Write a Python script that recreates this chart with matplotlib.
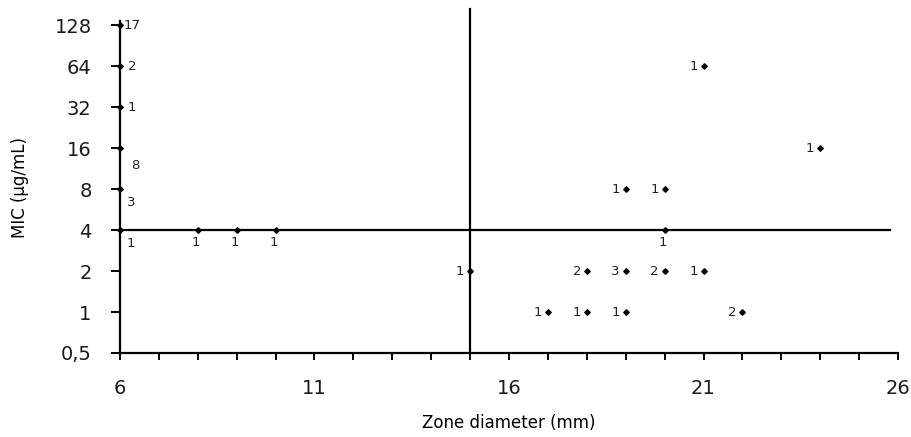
import numpy as np
import matplotlib
matplotlib.use("Agg")
import matplotlib.pyplot as plt
from matplotlib.ticker import FixedLocator, FixedFormatter, MultipleLocator

# zone diameter (mm), MIC (ug/mL), isolate count, where the count label sits
zone = [6, 6, 6, 6, 6, 6, 8, 9, 10, 20, 15, 18, 19, 20, 21, 17, 18, 19, 22, 19, 20, 21, 24]
mic = [128, 64, 32, 16, 8, 4, 4, 4, 4, 4, 2, 2, 2, 2, 2, 1, 1, 1, 1, 8, 8, 64, 16]
count = [17, 2, 1, 8, 3, 1, 1, 1, 1, 1, 1, 2, 3, 2, 1, 1, 1, 1, 2, 1, 1, 1, 1]
label_side = ["right", "right", "right", "below_far", "below", "below",
              "under", "under", "under", "under",
              "left", "left", "left", "left", "left", "left", "left", "left", "left",
              "left", "left", "left", "left"]

y_ticks = [0.5, 1, 2, 4, 8, 16, 32, 64, 128]
y_labels = ["0,5", "1", "2", "4", "8", "16", "32", "64", "128"]
x_ticks = [6, 11, 16, 21, 26]

# breakpoints
zone_bp = 15
mic_bp = 4

plt.rcParams['font.family'] = ['DejaVu Sans']

fig = plt.figure(figsize=(9.12, 4.37), dpi=100)
ax = fig.add_axes([120 / 912, 1 - 353 / 437, (898 - 120) / 912, (353 - 21) / 437])

ax.set_yscale('log', base=2)
ax.set_xlim(6, 26)
ax.set_ylim(0.5, 138)

# breakpoint lines
ax.plot([zone_bp, zone_bp], [0.5, 168], color='black', lw=1.6, clip_on=False, zorder=2)
ax.plot([6, 25.8], [mic_bp, mic_bp], color='black', lw=1.6, zorder=2)

ax.plot(zone, mic, linestyle='none', marker='D', markersize=2.8, color='black',
        clip_on=False, zorder=3)

offsets = {
    "left": (-10, 0),
    "right": (12, 0),
    "below": (11, -13),
    "below_far": (15, -17),
    "under": (-2, -12),
}
for x, y, n, side in zip(zone, mic, count, label_side):
    dx, dy = offsets[side]
    ax.annotate(str(n), (x, y), xytext=(dx, dy), textcoords='offset pixels',
                ha='center', va='center', fontsize=9.5, color='#222222')

for s in ['top', 'right']:
    ax.spines[s].set_visible(False)
for s in ['left', 'bottom']:
    ax.spines[s].set_linewidth(1.6)

ax.yaxis.set_major_locator(FixedLocator(y_ticks))
ax.yaxis.set_major_formatter(FixedFormatter(y_labels))
ax.yaxis.set_minor_locator(FixedLocator([]))
ax.xaxis.set_major_locator(FixedLocator(x_ticks))
ax.xaxis.set_minor_locator(MultipleLocator(1))

ax.tick_params(axis='y', which='major', direction='out', length=6.5, width=1.4,
               labelsize=14, pad=14, labelcolor='#1a1a1a')
ax.tick_params(axis='x', which='both', direction='out', length=5, width=1.4,
               labelsize=14, pad=14, labelcolor='#1a1a1a')

ax.set_xlabel("Zone diameter (mm)", fontsize=12, labelpad=11)
ax.set_ylabel("MIC (µg/mL)", fontsize=12, labelpad=18)

fig.savefig("out.png", dpi=100)
